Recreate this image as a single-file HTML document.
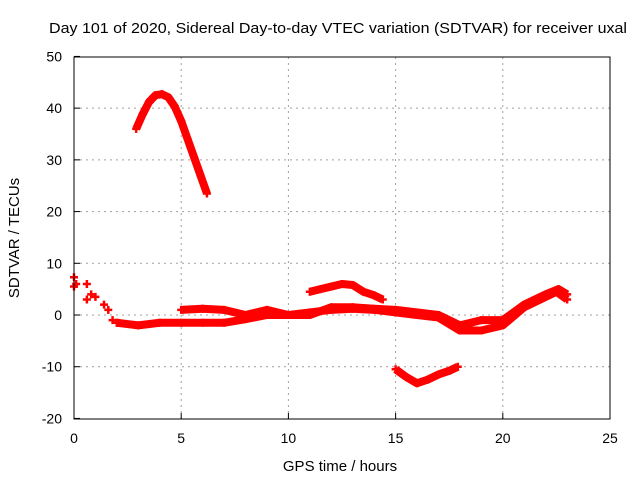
<!DOCTYPE html>
<html><head><meta charset="utf-8"><style>
body{margin:0;background:#fff}
svg{display:block;font-family:"Liberation Sans",sans-serif}
</style></head><body>
<svg id="c" width="640" height="480" viewBox="0 0 640 480">
<text x="338" y="33" font-size="15" text-anchor="middle" textLength="578" lengthAdjust="spacingAndGlyphs">Day 101 of 2020, Sidereal Day-to-day VTEC variation (SDTVAR) for receiver uxal</text>
<text x="340" y="471" font-size="15" text-anchor="middle">GPS time / hours</text>
<text transform="translate(19,238) rotate(-90)" font-size="15" text-anchor="middle">SDTVAR / TECUs</text>
<g id="grid"></g><g id="marks"></g>
<rect x="74" y="57" width="536" height="362" fill="none" stroke="#000" stroke-width="1"/>
</svg>
<script>
const xTicks=[0,5,10,15,20,25];
const yTicks=[-20,-10,0,10,20,30,40,50];
const arcTrack=[[2.9,36],[3.2,38.8],[3.5,41.2],[3.8,42.5],[4.1,42.7],[4.4,42.1],[4.7,40.3],[5.0,37.5],[5.3,34],[5.6,30.5],[5.9,27],[6.2,23.5]];
const earlyTrack=[[0,7.3],[0,5.5],[0.1,6],[0.6,6],[0.6,3],[0.8,4],[1.0,3.5],[1.4,2],[1.6,1],[1.8,-1],[2.0,-1.5]];
const lowTrack=[[2,-1.5],[3,-2],[4,-1.5],[5,-1.5],[6,-1.5],[7,-1.5],[8,-0.8],[9,0],[10,0],[11,0.5],[12,1],[13,1.2],[14,1],[15,0.5],[16,0],[17,-0.5],[18,-3],[19,-3],[20,-2],[21,1.5],[22,3.5],[22.5,4.5],[23,3]];
const upperTrack=[[5,1],[6,1.2],[7,1],[8,0],[9,1],[10,0],[11,0],[12,1.5],[13,1.5],[14,1.2],[15,1],[17,0],[18,-2],[19,-1],[20,-1],[21,2],[22,4],[22.6,5],[23,4]];
const humpTrack=[[11,4.5],[11.5,5],[12,5.5],[12.5,6],[13,5.8],[13.5,4.5],[14,3.8],[14.4,3]];
const dipTrack=[[15,-10.5],[15.5,-12],[16,-13.2],[16.5,-12.5],[17,-11.5],[17.5,-10.8],[17.9,-10]];
const tracks=[arcTrack,earlyTrack,lowTrack,upperTrack,humpTrack,dipTrack];
const X=v=>74+v*536/25, Y=v=>315-v*362/70;
const NS="http://www.w3.org/2000/svg";
const g=document.getElementById('grid'), m=document.getElementById('marks');
function el(t,a,p){const e=document.createElementNS(NS,t);for(const k in a)e.setAttribute(k,a[k]);p.appendChild(e);return e;}
xTicks.forEach(t=>{
 if(t>0&&t<25){const l=el('line',{x1:X(t),x2:X(t),y1:57,y2:419,stroke:'#a0a0a0','stroke-dasharray':'2,4'},g);
 
 }
 const k=el('line',{x1:X(t),x2:X(t),y1:419,y2:413,stroke:'#000'},g);
 
 
 const s=el('text',{x:X(t),y:443,'font-size':14,'text-anchor':'middle'},g);s.textContent=t;
 
 
});
yTicks.forEach(t=>{
 if(t>-20&&t<50){const l=el('line',{x1:74,x2:610,y1:Y(t),y2:Y(t),stroke:'#a0a0a0','stroke-dasharray':'2,4'},g);
 
 }
 const k=el('line',{x1:74,x2:80,y1:Y(t),y2:Y(t),stroke:'#000'},g);
 
 
 const s=el('text',{x:62,y:Y(t)+5,'font-size':14,'text-anchor':'end'},g);s.textContent=t;
 
 
});
tracks.forEach((tr,i)=>{
 if(i!==1){
 const p=el('polyline',{points:tr.map(d=>X(d[0])+','+Y(d[1])).join(' '),fill:'none',stroke:'#f00','stroke-width':8,'stroke-linejoin':'round'},m);
 
 
 }
 tr.forEach(d=>{
  const x=X(d[0]),y=Y(d[1]);
  const pt=el('path',{d:`M${x-4},${y}h8M${x},${y-4}v8`,stroke:'#f00','stroke-width':2.5},m);
  
  
 });
});
</script>
</body></html>
